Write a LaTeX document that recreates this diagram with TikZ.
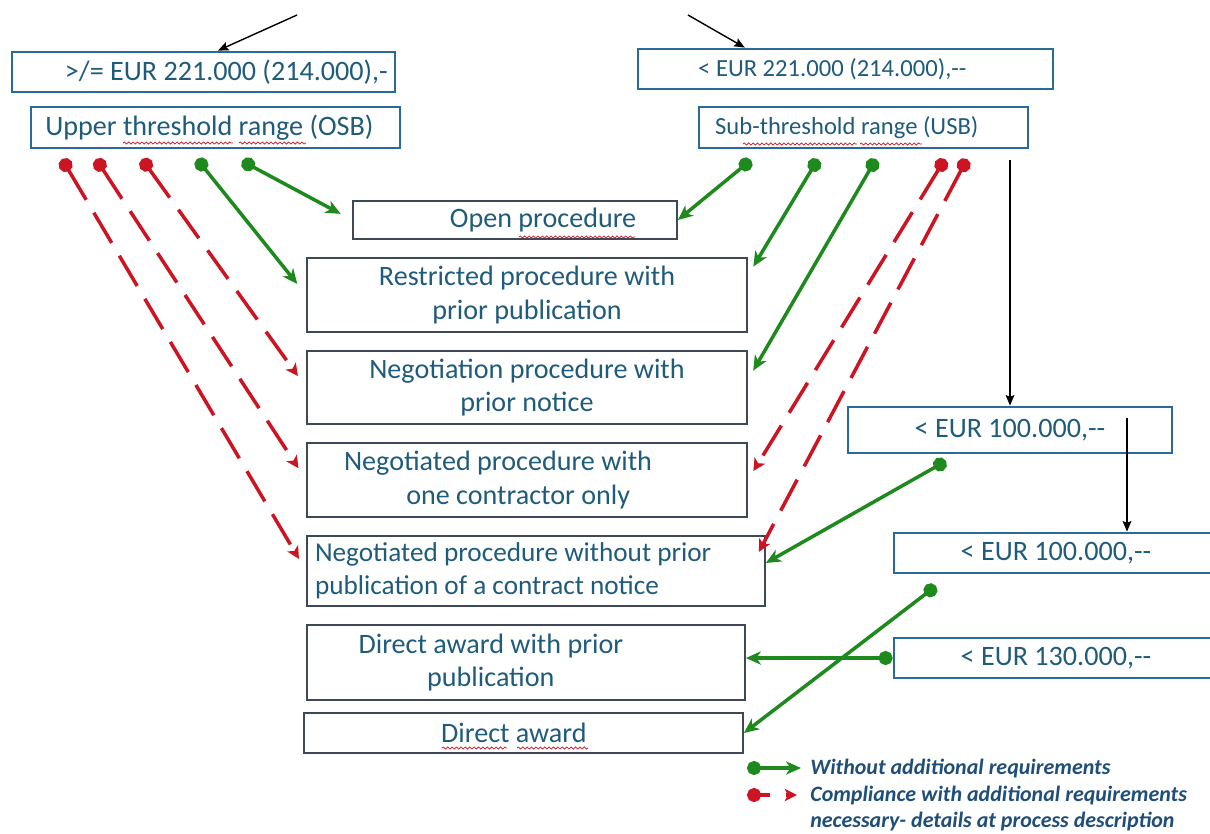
\documentclass[tikz,border=0pt]{standalone}
\usepackage{fontspec}
\setmainfont{Carlito}
\usepackage{tikz}
\usetikzlibrary{arrows.meta,decorations.pathmorphing,calc}

\definecolor{txtblue}{HTML}{1F5B7A}
\definecolor{rangeblue}{HTML}{2A6A96}
\definecolor{procgrey}{HTML}{3E4856}
\definecolor{okgreen}{HTML}{1E8A1E}
\definecolor{condred}{HTML}{CC1422}
\definecolor{legblue}{HTML}{1F4E79}

\newdimen\pxl
\pxl=0.02cm

\begin{document}
\begin{tikzpicture}[x=0.02cm,y=-0.02cm]
	\tikzstyle{Box}    = [rectangle, inner sep=0pt, text=txtblue, align=center, font=\fontsize{16}{18.8}\selectfont]
	\tikzstyle{Small}  = [font=\fontsize{14}{16.5}\selectfont]
	\tikzstyle{Range}  = [draw=rangeblue, line width=1.6pt]
	\tikzstyle{Proc}   = [draw=procgrey, line width=1pt]
	\tikzstyle{Ok}     = [draw=okgreen, line width=2pt, {Circle[length=8pt]}-{Stealth[length=8.5pt,width=7.5pt,inset=2.5pt]}]
	\tikzstyle{Cond}   = [draw=condred, line width=2pt, dash pattern=on 20pt off 8.5pt, {Circle[length=8pt]}-{Stealth[length=7pt,width=7pt,inset=1.8pt]}]
	\tikzstyle{Down}   = [draw=black, line width=0.8pt, -{Stealth[length=6pt,width=5pt,inset=1pt]}]
	\tikzstyle{Legend} = [text=legblue, anchor=west, inner sep=0pt, font=\fontsize{12.5}{14}\selectfont\bfseries\itshape]
	\tikzstyle{Typo}   = [draw=condred, line width=0.4pt, decorate, decoration={snake, amplitude=0.6pt, segment length=2.5pt}]

	\useasboundingbox (0,0) rectangle (1210,833);
	\clip (0,0) rectangle (1210,833);

	% threshold boxes
	\node (gtA) at (203.5,72) [Box][Range, minimum width=383\pxl, minimum height=40\pxl] {\hspace*{26pt}>/= EUR 221.000 (214.000),-};
	\node (osb) at (215.5,127.5) [Box][Range, minimum width=369\pxl, minimum height=41\pxl] {Upper threshold range (OSB)\hspace*{7pt}};
	\node (ltA) at (845.5,69) [Box][Small][Range, minimum width=415\pxl, minimum height=40\pxl] {< EUR 221.000 (214.000),-{}-\hspace*{15pt}};
	\node (usb) at (863.5,127.5) [Box][Small][Range, minimum width=329\pxl, minimum height=41\pxl] {Sub-threshold range (USB)\hspace*{19pt}};

	\node (ltB) at (1010,430) [Box][Range, minimum width=324\pxl, minimum height=46\pxl] {< EUR 100.000,-{}-};
	\node (ltC) at (1056,553) [Box][Range, minimum width=324\pxl, minimum height=40\pxl] {< EUR 100.000,-{}-};
	\node (ltD) at (1056,658) [Box][Range, minimum width=324\pxl, minimum height=40\pxl] {< EUR 130.000,-{}-};

	% procedures
	\node (open) at (515,220) [Box][Proc, minimum width=324\pxl, minimum height=38\pxl] {\hspace*{32pt}Open procedure};
	\node (restr) at (527,295) [Box][Proc, minimum width=440\pxl, minimum height=74\pxl] {Restricted procedure with\\prior publication};
	\node (negprior) at (527,387.5) [Box][Proc, minimum width=440\pxl, minimum height=73\pxl] {Negotiation procedure with\\prior notice};
	\node (negone) at (527,480) [Box][Proc, minimum width=440\pxl, minimum height=74\pxl] {Negotiated procedure with\hspace*{33pt}\\one contractor only\hspace*{10pt}};
	\node (negwo) at (536,571) [Box][Proc, minimum width=458\pxl, minimum height=70\pxl, align=left, font=\fontsize{15.5}{18.8}\selectfont] {Negotiated procedure without prior\hspace*{26pt}\\publication of a contract notice};
	\node (daprior) at (526,662.5) [Box][Proc, minimum width=438\pxl, minimum height=75\pxl] {Direct award with prior\hspace*{40pt}\\publication\hspace*{40pt}};
	\node (direct) at (523.5,733) [Box][Proc, minimum width=439\pxl, minimum height=40\pxl] {Direct award\hspace*{11pt}};

	% free ends
	\coordinate (t1) at (297,15);
	\coordinate (t2) at (688,15);
	\coordinate (o1) at (62,159);
	\coordinate (o2) at (96,159);
	\coordinate (o3) at (142,159);
	\coordinate (o4) at (197,159);
	\coordinate (o5) at (242,161);
	\coordinate (u1) at (751,160);
	\coordinate (u2) at (818,159);
	\coordinate (u3) at (876,159);
	\coordinate (u4) at (945,159);
	\coordinate (u5) at (967,159);
	\coordinate (b1) at (946,461);
	\coordinate (b2) at (936,586);
	\coordinate (s1) at (1010,160);
	\coordinate (s2) at (1127,418);

	\draw [Down] (t1) to (gtA.56);
	\draw [Down] (t2) to (ltA.168);
	\draw [Down] (s1) to (ltB.north);
	\draw [Down] (s2) to (s2 |- ltC.north);

	% upper threshold range
	\draw [Cond, shorten >=8pt] (o1) to (negwo.west);
	\draw [Cond, shorten >=8pt] (o2) to (negone.west);
	\draw [Cond, shorten >=8pt] (o3) to (negprior.west);
	\draw [Ok, shorten >=8pt] (o4) to (restr.west);
	\draw [Ok, shorten >=7.4pt] (o5) to (open.west);

	% sub-threshold range
	\draw [Ok] (u1) to (open.east);
	\draw [Ok, shorten >=6pt] (u2) to (restr.5);
	\draw [Ok, shorten >=6pt] (u3) to (negprior.2);
	\draw [Cond, shorten >=6pt] (u4) to (negone.east);
	\draw [Cond, shorten >=-8.5pt] (u5) to (negwo.8);

	\draw [Ok] (b1) to (negwo.2);
	\draw [Ok] (b2) to (direct.east);
	\draw [Ok] (ltD.west) to (ltD.west -| daprior.east);

	% spelling marks
	\draw [Typo] (123,143) -- (233,143);
	\draw [Typo] (239,143) -- (306,143);
	\draw [Typo] (743,144) -- (857,144);
	\draw [Typo] (860,144) -- (922,144);
	\draw [Typo] (519,237) -- (635,237);
	\draw [Typo] (442,748) -- (507,748);
	\draw [Typo] (517,748) -- (588,748);

	% legend
	\coordinate (g1) at (747,768);
	\coordinate (g2) at (801,768);
	\coordinate (r1) at (747,795);
	\coordinate (r2) at (797,795);
	\draw [Ok] (g1) to (g2);
	\draw [Cond, dash pattern=on 6pt off 9pt] (r1) to (r2);
	\node (lgA) at (810,768) [Legend] {Without additional requirements};
	\node (lgB) at (810,795) [Legend] {Compliance with additional requirements};
	\node (lgC) at (810,821) [Legend] {necessary- details at process description};
\end{tikzpicture}
\end{document}
